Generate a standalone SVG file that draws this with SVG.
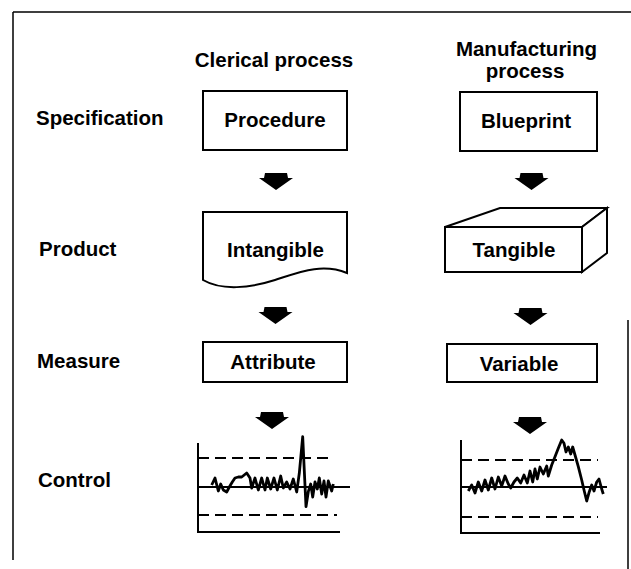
<svg xmlns="http://www.w3.org/2000/svg" width="631" height="569" viewBox="0 0 631 569">
<style>
text{font-family:"Liberation Sans",Arial,sans-serif;font-weight:bold;font-size:20.5px;fill:#000}
.c{text-anchor:middle}
.box{fill:#fff;stroke:#000;stroke-width:2}
.ln{fill:none;stroke:#000;stroke-width:2}
.dash{fill:none;stroke:#000;stroke-width:2;stroke-dasharray:11 6}
.sig{fill:none;stroke:#000;stroke-width:2.8;stroke-linejoin:round}
.frame{fill:none;stroke:#000;stroke-width:1.5}
.arr{fill:#000}
</style>
<defs>
<path id="a" d="M-11,0 H11 L12,5 H17 L0,17 L-17,5 H-12 Z"/>
</defs>
<rect width="631" height="569" fill="#fff"/>
<g id="frame">
<path class="frame" d="M13,12 H631 M13,12 V560 M628,320 V569"/>
</g>
<g id="labels">
<text x="36" y="125">Specification</text>
<text x="39" y="256">Product</text>
<text x="37" y="368">Measure</text>
<text x="38" y="487">Control</text>
<text class="c" x="274" y="67">Clerical process</text>
<text class="c" x="526.5" y="56">Manufacturing</text>
<text class="c" x="525" y="78">process</text>
</g>
<g id="procedure">
<rect class="box" x="203" y="91" width="144" height="59"/>
<text class="c" x="275" y="127">Procedure</text>
</g>
<g id="blueprint">
<rect class="box" x="460" y="92" width="137" height="59"/>
<text class="c" x="526" y="128">Blueprint</text>
</g>
<g id="intangible">
<path class="box" d="M203,212 H347 V273 C322,263 300,272 275,280 C250,288 222,291 203,280 Z"/>
<text class="c" x="275.5" y="257">Intangible</text>
</g>
<g id="tangible">
<path class="box" d="M445,227 L500,208 H607 L582,227 Z"/>
<path class="box" d="M582,227 L607,208 V253 L582,272 Z"/>
<rect class="box" x="445" y="227" width="137" height="45"/>
<text class="c" x="514" y="257">Tangible</text>
</g>
<g id="attribute">
<rect class="box" x="203" y="342" width="144" height="40"/>
<text class="c" x="273" y="369">Attribute</text>
</g>
<g id="variable">
<rect class="box" x="447" y="344" width="150" height="38"/>
<text class="c" x="519" y="371">Variable</text>
</g>
<g id="chart-clerical">
<path class="ln" d="M198,443 V532 H340 M198,487 H350"/>
<path class="dash" d="M198,458 H333 M198,515 H337"/>
<polyline class="sig" points="211.7,485 215,478 218.3,491 220.7,484 223.3,490 226.7,492 229.3,487 232.3,482 235,478 238.3,477 241.7,477 246.7,473 250,478 251.7,488 255,478 258.3,490 261.7,478 265,490 267.3,478 270.7,489 274,478 277.3,490 280.7,476 283.3,488 286.7,482 290,489 293.3,479 296.7,492 299.3,473.3 302.7,436.7 306,506.7 308.3,491.7 310.7,484 312.7,497 315,482 317.3,489 319.3,478 321.7,494 324,481 326,497 328.3,481 331.7,491 333.3,484"/>
</g>
<g id="chart-manufacturing">
<path class="ln" d="M461,440 V533 H600 M461,487 H607"/>
<path class="dash" d="M461,460 H598 M461,517 H598"/>
<polyline class="sig" points="468.3,491 471.7,485 475,493 478.3,482 481.7,491 485,480 488.3,490 491.7,478 495,489 498.3,477 501.7,486 505,476 508.3,484 510.7,488 514,482 517.3,478 520.7,483 524,475 527.3,483 530,471 532.7,482 535,469 537.3,479 540,467 543.3,474 546.7,466 548.3,476 551.7,465 555,456.7 558.3,448.3 561.7,440 564,443.3 566,452 568.3,447 570.7,454 572.7,447 575,455 578.3,466.7 581.7,480 584,490 586.7,501 589.3,491.7 591.7,485 594,491 596.7,482 599,479 601.7,489 603.3,494"/>
</g>
<g id="connectors">
<use href="#a" class="arr" x="276" y="173"/>
<use href="#a" class="arr" x="275.5" y="307"/>
<use href="#a" class="arr" x="272" y="412"/>
<use href="#a" class="arr" x="531.5" y="173"/>
<use href="#a" class="arr" x="530.5" y="308"/>
<use href="#a" class="arr" x="530" y="417"/>
</g>
</svg>
